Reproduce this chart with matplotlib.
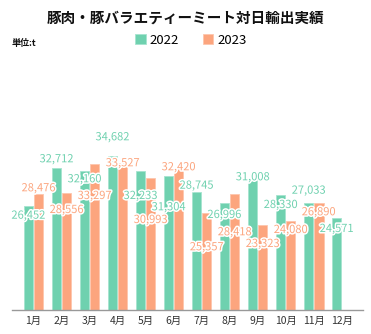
import numpy as np
import matplotlib.pyplot as plt
import matplotlib.patheffects as pe
import matplotlib.transforms as mtransforms

plt.rcParams['font.family'] = ['Noto Sans CJK JP', 'DejaVu Sans']

months = ['1月', '2月', '3月', '4月', '5月', '6月', '7月', '8月', '9月', '10月', '11月', '12月']
v2022 = [26452, 32712, 32160, 34682, 32233, 31304, 28745, 26996, 31008, 28330, 27033, 24571]
v2023 = [28476, 28556, 33297, 33527, 30993, 32420, 25357, 28418, 23323, 24080, 26890]

# where the value labels sit (pixel row from top of the image)
lab2022 = [215.7, 159.3, 179.3, 137.3, 196, 207.3, 185.7, 215, 177.3, 205, 190.7, 229]
lab2023 = [188.3, 210, 196, 163.3, 220, 167.3, 247.3, 232.3, 244, 230, 212.3]

c22 = '#6fd1af'
c23 = '#fca57e'

W, H = 371, 334
fig = plt.figure(figsize=(W/100, H/100), dpi=100)
ax = fig.add_axes([12/W, 24/H, 351/W, 240/H])

x = np.arange(len(months))
w = 0.34
b1 = ax.bar(x - 0.18, v2022, w, color=c22, edgecolor='#a6e4cf', linewidth=0.6, label='2022')
b2 = ax.bar(x[:len(v2023)] + 0.18, v2023, w, color=c23, edgecolor='#fdc6ad', linewidth=0.6, label='2023')

trans = mtransforms.blended_transform_factory(ax.transData, fig.transFigure)
stroke = [pe.withStroke(linewidth=2.2, foreground='white')]
for xi, v, py in zip(x - 0.18, v2022, lab2022):
    ax.text(xi, 1 - py/H, f'{v:,}', transform=trans, ha='center', va='center',
            color=c22, fontsize=8, path_effects=stroke)
for xi, v, py in zip(x + 0.18, v2023, lab2023):
    ax.text(xi, 1 - py/H, f'{v:,}', transform=trans, ha='center', va='center',
            color=c23, fontsize=8, path_effects=stroke)

ax.set_xlim(-0.77, 11.76)
ax.set_ylim(9540, 48620)
ax.set_xticks(x)
ax.set_xticklabels(months, fontsize=7.5, color='#333333')
ax.tick_params(axis='x', length=0, pad=4)
ax.set_yticks([])
for s in ['top', 'right', 'left']:
    ax.spines[s].set_visible(False)
ax.spines['bottom'].set_color('#999999')
ax.spines['bottom'].set_linewidth(1)

fig.text(0.5, 1 - 18/H, '豚肉・豚バラエティーミート対日輸出実績', ha='center', va='center',
         fontsize=10.5, fontweight='bold', color='#111111')
fig.text(12/W, 1 - 43/H, '単位:t', ha='left', va='center', fontsize=6.5,
         fontweight='bold', color='#111111')
fig.legend(handles=[b1, b2], loc='center', bbox_to_anchor=(0.515, 1 - 40/H), ncol=2,
           frameon=False, fontsize=9.5, handlelength=0.8, handleheight=0.8,
           handletextpad=0.3, columnspacing=1.8)

fig.savefig('out.png', dpi=100)
